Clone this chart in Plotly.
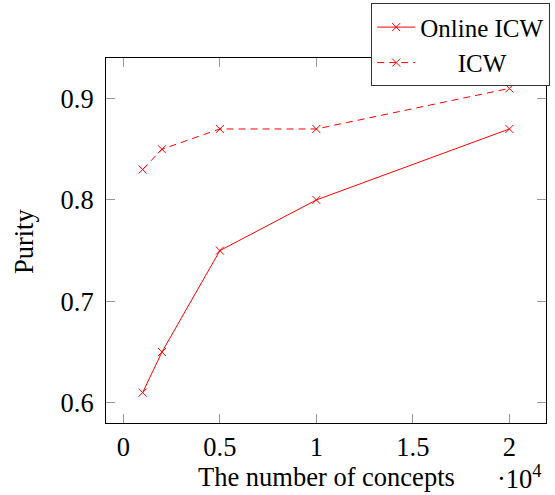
import plotly.graph_objects as go

concepts = [1000, 2000, 5000, 10000, 20000]
online_icw = [0.61, 0.65, 0.75, 0.80, 0.87]
icw = [0.83, 0.85, 0.87, 0.87, 0.91]
x_tick_vals = [0, 5000, 10000, 15000, 20000]
x_tick_text = ["0", "0.5", "1", "1.5", "2"]
y_tick_vals = [0.6, 0.7, 0.8, 0.9]
y_tick_text = ["0.6", "0.7", "0.8", "0.9"]

FONT = "Liberation Serif"
FS = 26.5
LFS = 25
RED = "#ff0000"

L, R, T, B = 106, 9.3, 57.7, 72
W, H = 555, 495
PW, PH = W - L - R, H - T - B


def px(xpix):
    return (xpix - L) / PW


def py(ypix):
    return (H - B - ypix) / PH


fig = go.Figure()
fig.add_trace(go.Scatter(
    x=concepts, y=online_icw, mode="lines+markers", name="Online ICW",
    line=dict(color=RED, width=1),
    marker=dict(symbol="x-thin", size=8, color=RED, line=dict(color=RED, width=1)),
))
fig.add_trace(go.Scatter(
    x=concepts, y=icw, mode="lines+markers",
    name="\u00a0" * 6 + "ICW",
    line=dict(color=RED, width=1, dash="7px,5px"),
    marker=dict(symbol="x-thin", size=8, color=RED, line=dict(color=RED, width=1)),
))

fig.update_layout(
    width=W, height=H,
    margin=dict(l=L, r=R, t=T, b=B, autoexpand=False),
    paper_bgcolor="white", plot_bgcolor="white",
    font=dict(family=FONT, size=FS, color="black"),
    showlegend=True,
    legend=dict(
        x=px(371), y=py(3),
        xanchor="left", yanchor="top",
        bgcolor="white", bordercolor="#333333", borderwidth=1,
        font=dict(family=FONT, size=LFS),
        itemwidth=38, tracegroupgap=0,
    ),
    xaxis=dict(
        range=[-900, 21900], tickvals=x_tick_vals, ticktext=x_tick_text,
        ticks="inside", ticklen=9, tickcolor="#999999", tickwidth=1,
        showline=True, linecolor="black", linewidth=1, mirror="ticks",
        showgrid=False, zeroline=False, ticklabelstandoff=0,
        tickfont=dict(family=FONT, size=FS),
    ),
    yaxis=dict(
        range=[0.58, 0.94], tickvals=y_tick_vals, ticktext=y_tick_text,
        ticks="inside", ticklen=9, tickcolor="#999999", tickwidth=1,
        showline=True, linecolor="black", linewidth=1, mirror="ticks",
        showgrid=False, zeroline=False, ticklabelstandoff=6,
        tickfont=dict(family=FONT, size=FS),
    ),
    annotations=[
        dict(text="The number of concepts", xref="paper", yref="paper",
             x=px(326), y=py(477),
             xanchor="center", yanchor="middle", showarrow=False,
             font=dict(family=FONT, size=FS)),
        dict(text="\u00b710<sup>4</sup>", xref="paper", yref="paper",
             x=px(519), y=py(477),
             xanchor="center", yanchor="middle", showarrow=False,
             font=dict(family=FONT, size=FS)),
        dict(text="Purity", xref="paper", yref="paper", textangle=-90,
             x=px(24), y=py(241),
             xanchor="center", yanchor="middle", showarrow=False,
             font=dict(family=FONT, size=FS)),
    ],
)

fig.write_html("out.html")
